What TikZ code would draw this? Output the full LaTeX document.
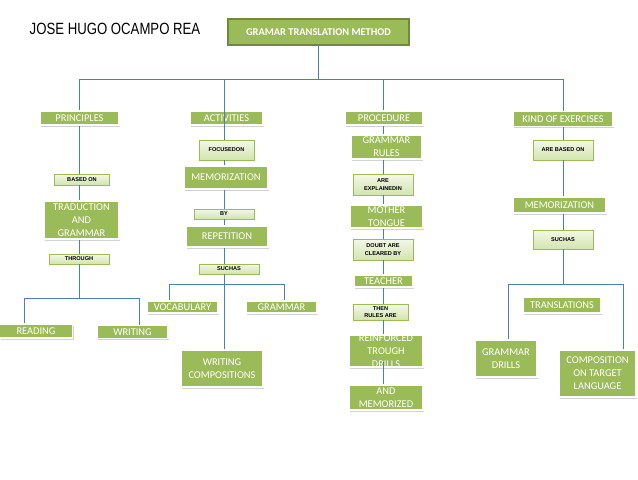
\documentclass[tikz,border=0pt]{standalone}
\usepackage{fontspec}
\setmainfont{Carlito}
\newfontfamily\titlefont[FakeStretch=0.81]{Liberation Sans}
\newfontfamily\tagfont{Liberation Sans}
\usetikzlibrary{shadows}
\definecolor{leaf}{HTML}{9BBB59}
\definecolor{leafedge}{HTML}{71893F}
\definecolor{paletop}{HTML}{F3F8E8}
\definecolor{palebottom}{HTML}{D3E4AE}
\definecolor{linkblue}{HTML}{4A7EBB}
\newcommand{\headfont}{\fontsize{7.8}{9.75}\selectfont}
\newcommand{\tagsize}{\tagfont\bfseries\fontsize{4.2}{5.8}\selectfont}
\tikzset{
  wh/.style 2 args={minimum width=#1*0.75pt,minimum height=#2*0.75pt},
  head/.style={fill=leaf,draw=white,line width=1.2pt,text=white,inner sep=0pt,align=center,font=\headfont,
    drop shadow={shadow xshift=1pt,shadow yshift=-1.2pt,opacity=0.35}},
  tag/.style={top color=paletop,bottom color=palebottom,draw=leaf,line width=0.6pt,inner sep=0pt,align=center,font=\tagsize},
  link/.style={draw=linkblue,line width=0.75pt},
}

\begin{document}
\begin{tikzpicture}[x=0.75pt,y=-0.75pt]
\fill[white] (0,0) rectangle (638,479);
\useasboundingbox (0,0) rectangle (638,479);
\node[font=\titlefont\fontsize{12.2}{14}\selectfont] (author) at (115,29) {JOSE HUGO OCAMPO REA};
\node[fill=leaf,draw=leafedge,line width=1.2pt,text=white,font=\fontsize{7.8}{9}\selectfont\bfseries,wh={181}{26}] (gtm) at (318.5,32) {GRAMAR TRANSLATION METHOD};

% bus points
\coordinate (c1) at (79,79);
\coordinate (c2) at (224,79);
\coordinate (c3) at (383,79);
\coordinate (c4) at (563,79);
\coordinate (rwL) at (24,298);
\coordinate (rwR) at (139,298);
\coordinate (vbL) at (169,284);
\coordinate (vbR) at (284,284);
\coordinate (gdL) at (508,284);
\coordinate (gdR) at (623,284);

% column heads
\node[head,wh={79}{14}] (principles) at (79.5,118) {PRINCIPLES};
\node[head,wh={73}{14}] (activities) at (226.5,118) {ACTIVITIES};
\node[head,wh={78}{14}] (procedure) at (384,118) {PROCEDURE};
\node[head,wh={100}{15}] (kinds) at (563,119) {KIND OF EXERCISES};

% principles
\node[tag,wh={55}{11}] (basedon) at (82,179.5) {BASED ON};
\node[head,wh={75}{38}] (traduction) at (81.5,220) {TRADUCTION\\AND\\GRAMMAR};
\node[tag,wh={60}{10}] (through) at (79,259) {THROUGH};
\node[head,wh={73}{14}] (reading) at (36,331) {READING};
\node[head,wh={71}{13}] (writing) at (132.5,332) {WRITING};

% activities
\node[tag,wh={55}{20}] (focusedon) at (226.5,150) {FOCUSEDON};
\node[head,wh={84}{23}] (memo) at (226,177.5) {MEMORIZATION};
\node[tag,wh={60}{10}] (by) at (224,214) {BY};
\node[head,wh={82}{21}] (repetition) at (227,236.5) {REPETITION};
\node[tag,wh={60}{10}] (suchas) at (229,269) {SUCHAS};
\node[head,wh={71}{12}] (vocabulary) at (182.5,307) {VOCABULARY};
\node[head,wh={71}{12}] (grammar) at (281.5,307) {GRAMMAR};
\node[head,wh={82}{37}] (wcomp) at (222,368.5) {WRITING\\COMPOSITIONS};

% procedure
\node[head,wh={71}{24}] (rules) at (386.5,147) {GRAMMAR\\RULES};
\node[tag,wh={60}{21}] (explained) at (383,184.5) {ARE\\EXPLAINEDIN};
\node[head,wh={73}{23}] (mother) at (386.5,216.5) {MOTHER\\TONGUE};
\node[tag,wh={60}{21}] (doubt) at (383,249.5) {DOUBT ARE\\CLEARED BY};
\node[head,wh={59}{12}] (teacher) at (383.5,281) {TEACHER};
\node[tag,wh={55}{16}] (then) at (380.5,312) {THEN\\RULES ARE};
\node[head,wh={74}{32},inner ysep=-1.8pt] (reinforced) at (386,351) {REINFORCED\\TROUGH\\DRILLS};
\node[head,wh={74}{25}] (andmem) at (386,397.5) {AND\\MEMORIZED};

% kind of exercises
\node[tag,wh={60}{20}] (arebasedon) at (563,150) {ARE BASED ON};
\node[head,wh={93}{16}] (memotwo) at (559.5,205) {MEMORIZATION};
\node[tag,wh={60}{19}] (suchastwo) at (563,239.5) {SUCHAS};
\node[head,wh={78}{16}] (translations) at (562,305) {TRANSLATIONS};
\node[head,wh={62}{37}] (gdrills) at (506,358.5) {GRAMMAR\\DRILLS};
\node[head,wh={77}{47}] (composition) at (597.5,373.5) {COMPOSITION\\ON TARGET\\LANGUAGE};

% connectors
\draw[link] (gtm.south) -- (gtm.south |- c1);
\draw[link] (c1) -- (c4);
\draw[link] (c1) -- (c1 |- principles.north);
\draw[link] (c2) -- (c2 |- focusedon.north);
\draw[link] (c3) -- (c3 |- procedure.north);
\draw[link] (c4) -- (c4 |- kinds.north);

\draw[link] (c1 |- principles.south) -- (c1 |- basedon.north);
\draw[link] (c1 |- basedon.south) -- (c1 |- traduction.north);
\draw[link] (c1 |- traduction.south) -- (c1 |- through.north);
\draw[link] (c1 |- through.south) -- (c1 |- rwL);
\draw[link] (rwL |- reading.north) -- (rwL) -- (rwR) -- (rwR |- writing.north);

\draw[link] (c2 |- focusedon.south) -- (c2 |- memo.north);
\draw[link] (c2 |- memo.south) -- (c2 |- by.north);
\draw[link] (c2 |- by.south) -- (c2 |- repetition.north);
\draw[link] (c2 |- repetition.south) -- (c2 |- suchas.north);
\draw[link] (c2 |- suchas.south) -- (c2 |- wcomp.north);
\draw[link] (vbL |- vocabulary.north) -- (vbL) -- (vbR) -- (vbR |- grammar.north);

\draw[link] (c3 |- procedure.south) -- (c3 |- rules.north);
\draw[link] (c3 |- rules.south) -- (c3 |- explained.north);
\draw[link] (c3 |- explained.south) -- (c3 |- mother.north);
\draw[link] (c3 |- mother.south) -- (c3 |- doubt.north);
\draw[link] (c3 |- doubt.south) -- (c3 |- teacher.north);
\draw[link] (c3 |- teacher.south) -- (c3 |- then.north);
\draw[link] (c3 |- then.south) -- (c3 |- reinforced.north);
\draw[link] ([yshift=4pt]c3 |- reinforced.south) -- (c3 |- andmem.north);

\draw[link] (c4 |- kinds.south) -- (c4 |- arebasedon.north);
\draw[link] (c4 |- arebasedon.south) -- (c4 |- memotwo.north);
\draw[link] (c4 |- memotwo.south) -- (c4 |- suchastwo.north);
\draw[link] (c4 |- suchastwo.south) -- (c4 |- gdL);
\draw[link] (gdL |- gdrills.north) -- (gdL) -- (gdR) -- (gdR |- composition.north);
\end{tikzpicture}
\end{document}
